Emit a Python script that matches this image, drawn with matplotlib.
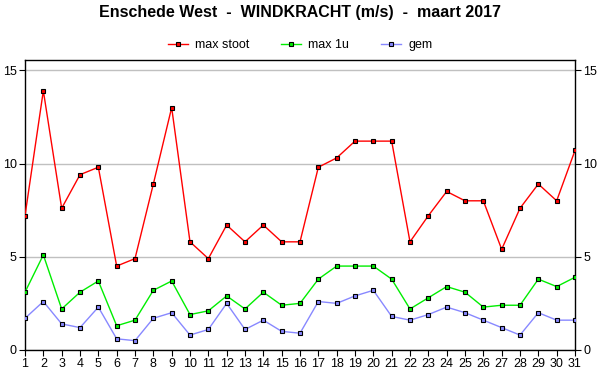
import matplotlib
matplotlib.use('Agg')
import matplotlib.pyplot as plt

plt.rcParams['font.family'] = ['Liberation Sans', 'DejaVu Sans']

dagen = list(range(1, 32))
max_stoot = [7.2, 13.9, 7.6, 9.4, 9.8, 4.5, 4.9, 8.9, 13.0, 5.8, 4.9, 6.7, 5.8, 6.7, 5.8, 5.8,
             9.8, 10.3, 11.2, 11.2, 11.2, 5.8, 7.2, 8.5, 8.0, 8.0, 5.4, 7.6, 8.9, 8.0, 10.7]
max_1u = [3.1, 5.1, 2.2, 3.1, 3.7, 1.3, 1.6, 3.2, 3.7, 1.9, 2.1, 2.9, 2.2, 3.1, 2.4, 2.5,
          3.8, 4.5, 4.5, 4.5, 3.8, 2.2, 2.8, 3.4, 3.1, 2.3, 2.4, 2.4, 3.8, 3.4, 3.9]
gem = [1.7, 2.6, 1.4, 1.2, 2.3, 0.6, 0.5, 1.7, 2.0, 0.8, 1.1, 2.5, 1.1, 1.6, 1.0, 0.9,
       2.6, 2.5, 2.9, 3.2, 1.8, 1.6, 1.9, 2.3, 2.0, 1.6, 1.2, 0.8, 2.0, 1.6, 1.6]

fig = plt.figure(figsize=(6, 3.9), dpi=100)
ax = fig.add_axes([25/600, 40/390, 550/600, 290/390])

series = [(max_stoot, '#ff0000', 'max stoot'),
          (max_1u, '#00ee00', 'max 1u'),
          (gem, '#8888ff', 'gem')]
for vals, kleur, naam in series:
    ax.plot(dagen, vals, color=kleur, lw=1, marker='s', ms=3.5,
            mfc=kleur, mec='black', mew=0.8, label=naam, zorder=3)

ax.set_xlim(1, 31)
ax.set_ylim(0, 15.55)
ax.set_xticks(dagen)
ax.set_yticks([0, 5, 10, 15])
ax.yaxis.grid(True, color='#c0c0c0', lw=1)
ax.set_axisbelow(True)
ax.tick_params(axis='both', direction='out', length=4, labelsize=9, pad=2)
ax.tick_params(axis='y', right=True, labelright=True)
for s in ax.spines.values():
    s.set_linewidth(1)

fig.text(0.5, 1 - 13/390, 'Enschede West  -  WINDKRACHT (m/s)  -  maart 2017',
         ha='center', va='center', fontsize=11.5, fontweight='bold')
fig.legend(loc='center', bbox_to_anchor=(0.5, 1 - 45/390), ncol=3, frameon=False,
           fontsize=9, handlelength=1.6, handletextpad=0.6, columnspacing=2.5,
           markerscale=0.8)

fig.savefig('out.png', dpi=100)
